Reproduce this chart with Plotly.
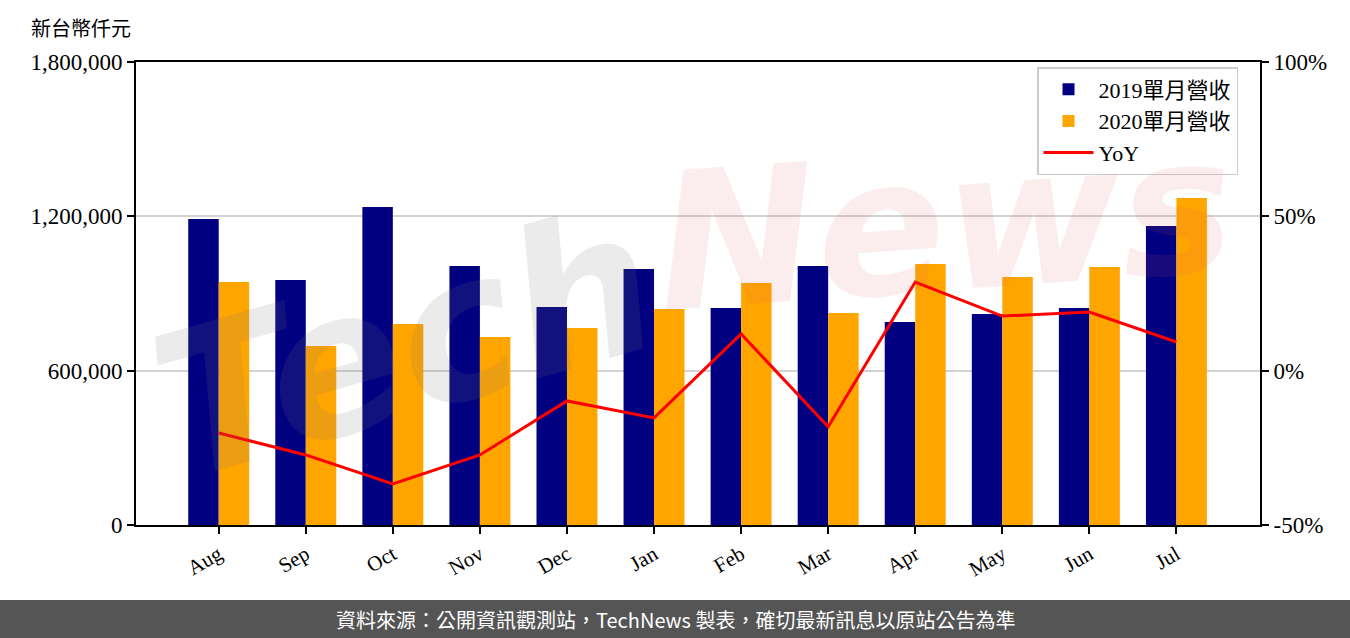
import plotly.graph_objects as go

months = ["Aug", "Sep", "Oct", "Nov", "Dec", "Jan", "Feb", "Mar", "Apr", "May", "Jun", "Jul"]
rev_2019 = [1189600, 952500, 1236300, 1006900, 847500, 995000, 843600, 1006900, 789000, 820300, 843600, 1162400]
rev_2020 = [944700, 695900, 781400, 730900, 766000, 839700, 941000, 824200, 1014700, 964000, 1003000, 1271300]
yoy = [-0.202, -0.273, -0.367, -0.273, -0.098, -0.153, 0.119, -0.182, 0.287, 0.177, 0.190, 0.093]

left_ticks = [0, 600000, 1200000, 1800000]
right_ticks = [-0.5, 0, 0.5, 1.0]
right_labels = ["-50%", "0%", "50%", "100%"]

x = list(range(len(months)))
serif = "Liberation Serif, Noto Sans CJK TC, serif"

fig = go.Figure()
fig.add_trace(go.Bar(x=x, y=rev_2019, name="2019單月營收", marker_color="#000080",
                     width=0.35, offset=-0.35, marker_line_width=0))
fig.add_trace(go.Bar(x=x, y=rev_2020, name="2020單月營收", marker_color="#FFA500",
                     width=0.35, offset=0, marker_line_width=0))
fig.add_trace(go.Scatter(x=x, y=yoy, name="YoY", mode="lines", yaxis="y2",
                         line=dict(color="#FF0000", width=3)))

# plot area in pixels: left 136, right 1260, top 62, bottom 525
W, H = 1350, 638
L, R, T, B = 136, 1260, 62, 525
pw, ph = R - L, B - T

def px_x(p):
    return (p - L) / pw

def px_y(p):
    return (B - p) / ph

fig.update_layout(
    width=W, height=H,
    margin=dict(l=L, r=W - R, t=T, b=H - B, autoexpand=False),
    paper_bgcolor="white", plot_bgcolor="white",
    font=dict(family=serif, size=20, color="#000"),
    showlegend=True,
    legend=dict(x=px_x(1037), y=px_y(67), xanchor="left", yanchor="top",
                bgcolor="rgba(255,255,255,0.85)", bordercolor="#cccccc", borderwidth=1.5,
                font=dict(family=serif, size=22), traceorder="normal",
                itemwidth=50, tracegroupgap=0),
    xaxis=dict(range=[-0.95, 11.96], tickvals=x, ticktext=months, tickangle=-30,
               showline=True, linecolor="black", linewidth=2, mirror=True,
               ticks="outside", ticklen=7, tickwidth=2, tickcolor="black",
               showgrid=False, zeroline=False, tickfont=dict(family=serif, size=21)),
    yaxis=dict(range=[0, 1800000], tickvals=left_ticks, tickformat=",",
               showline=True, linecolor="black", linewidth=2,
               ticks="outside", ticklen=7, tickwidth=2, tickcolor="black",
               showgrid=True, gridcolor="#d3d3d3", gridwidth=1.5, zeroline=False,
               tickfont=dict(family=serif, size=23)),
    yaxis2=dict(range=[-0.5, 1.0], tickvals=right_ticks, ticktext=right_labels,
                overlaying="y", side="right",
                showline=True, linecolor="black", linewidth=2,
                ticks="outside", ticklen=7, tickwidth=2, tickcolor="black",
                showgrid=False, zeroline=False, tickfont=dict(family=serif, size=23)),
)

# watermark
fig.add_annotation(text="Tech", x=px_x(405), y=px_y(345), xref="paper", yref="paper",
                   xanchor="center", yanchor="middle",
                   showarrow=False, textangle=-16,
                   font=dict(family="DejaVu Sans", size=200, style="italic", weight="bold",
                             color="rgba(120,120,120,0.15)"))
fig.add_annotation(text="News", x=px_x(945), y=px_y(225), xref="paper", yref="paper",
                   xanchor="center", yanchor="middle",
                   showarrow=False, textangle=-4,
                   font=dict(family="DejaVu Sans", size=190, style="italic", weight="bold",
                             color="rgba(220,90,90,0.11)"))

# unit label
fig.add_annotation(text="新台幣仟元", x=px_x(29), y=px_y(27), xref="paper", yref="paper",
                   xanchor="left", yanchor="middle", showarrow=False,
                   font=dict(family="Noto Sans CJK TC", size=20, color="#000"))

# footer band
fig.add_shape(type="rect", xref="paper", yref="paper",
              x0=px_x(-2), x1=px_x(W + 2), y0=px_y(600), y1=px_y(H + 2),
              fillcolor="#555555", line_width=0, layer="above")
fig.add_annotation(text="資料來源：公開資訊觀測站，TechNews 製表，確切最新訊息以原站公告為準",
                   x=px_x(675), y=px_y(619), xref="paper", yref="paper",
                   xanchor="center", yanchor="middle", showarrow=False,
                   font=dict(family="Noto Sans CJK TC", size=20, color="white"))

fig.write_html("out.html", config={"displayModeBar": False},
               post_script="document.body.style.margin='0';")
